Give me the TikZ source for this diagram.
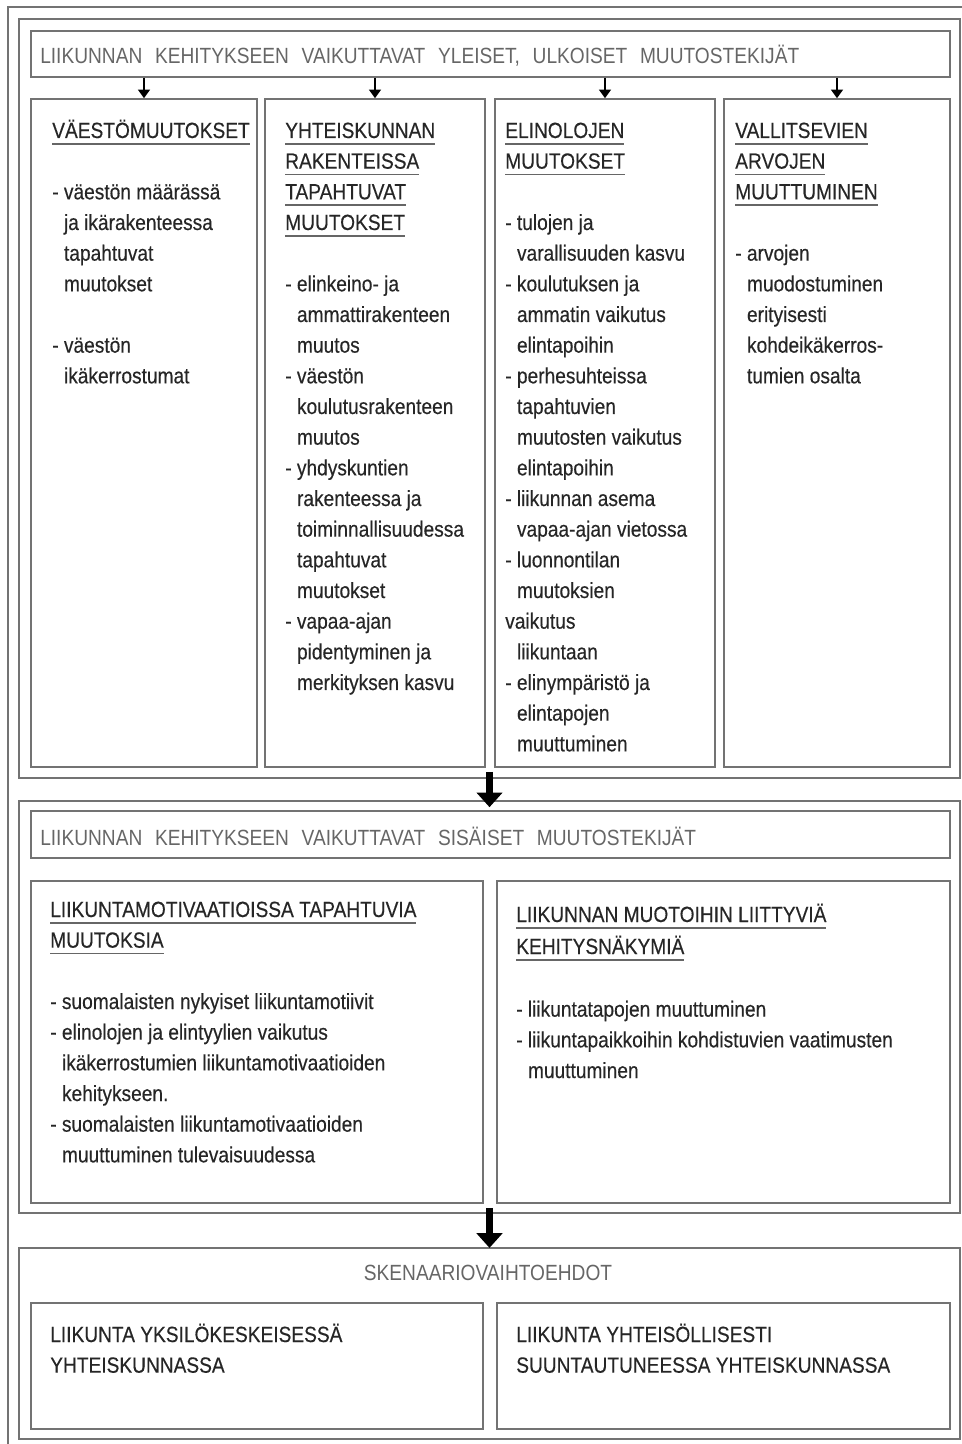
\documentclass[tikz,border=0pt]{standalone}
\usepackage{fontspec}
\setmainfont{Liberation Sans}[FakeStretch=0.87]
\newfontfamily\bodyfont{Liberation Sans}[FakeStretch=0.87,FakeBold=0.35]
\usetikzlibrary{arrows.meta,fit}
\newcommand\hd[1]{\leavevmode\setbox0\hbox{#1}\rlap{\color{black!60}\rule[-5pt]{\wd0}{1.3pt}}\box0}
\newcommand\ind{\hspace*{8.8pt}}
\newcommand\gp{\hspace*{9.5pt}}
\newcommand\blk[2]{\parbox[t]{#1}{\raggedright\bodyfont\fontsize{16.5}{23}\selectfont\leavevmode #2}}
\tikzset{
  box/.style={draw=black!55, line width=1.2pt, inner sep=0pt},
  frame/.style={draw=black!55, line width=1.2pt, inner sep=0pt},
  txt/.style={inner sep=0pt, anchor=base west, text=black!85},
  ttl/.style={inner sep=0pt, text=black!60, font=\fontsize{16.5}{23}\selectfont},
  smarr/.style={line width=1.3pt, -{Triangle[length=6.5pt,width=9pt]}},
  bigarr/.style={line width=5pt, -{Triangle[length=11pt,width=19pt]}}
}
\begin{document}
\begin{tikzpicture}[x=0.75pt,y=-0.75pt]
\useasboundingbox (0,0) rectangle (962,1444);
\clip (0,0) rectangle (962,1444);
% outermost frame
\node[frame, fit={(8,7) (975,1455)}] (outer) {};
% group 1
\node[frame, fit={(19,19) (960,778)}] (g1) {};
\node[box, fit={(31,31) (950,77)}] (t1) {};
\node[ttl, anchor=base west] (t1txt) at (40,64) {LIIKUNNAN\gp KEHITYKSEEN\gp VAIKUTTAVAT\gp YLEISET,\gp ULKOISET\gp MUUTOSTEKIJÄT};
\node[box, fit={(31,99) (257,767)}] (c1) {};
\node[box, fit={(265,99) (485,767)}] (c2) {};
\node[box, fit={(495,99) (715,767)}] (c3) {};
\node[box, fit={(724,99) (950,767)}] (c4) {};
\foreach \c in {c1,c2,c3,c4}{\draw[smarr] (\c.north |- t1.south) -- (\c.north);}
\node[txt] (c1txt) at (52,138) {\blk{200pt}{\hd{VÄESTÖMUUTOKSET}\\[23pt]
- väestön määrässä\\
\ind ja ikärakenteessa\\
\ind tapahtuvat\\
\ind muutokset\\[23pt]
- väestön\\
\ind ikäkerrostumat}};
\node[txt] (c2txt) at (285,138) {\blk{200pt}{\hd{YHTEISKUNNAN}\\ \hd{RAKENTEISSA}\\ \hd{TAPAHTUVAT}\\ \hd{MUUTOKSET}\\[23pt]
- elinkeino- ja\\ \ind ammattirakenteen\\ \ind muutos\\
- väestön\\ \ind koulutusrakenteen\\ \ind muutos\\
- yhdyskuntien\\ \ind rakenteessa ja\\ \ind toiminnallisuudessa\\ \ind tapahtuvat\\ \ind muutokset\\
- vapaa-ajan\\ \ind pidentyminen ja\\ \ind merkityksen kasvu}};
\node[txt] (c3txt) at (505,138) {\blk{200pt}{\hd{ELINOLOJEN}\\ \hd{MUUTOKSET}\\[23pt]
- tulojen ja\\ \ind varallisuuden kasvu\\
- koulutuksen ja\\ \ind ammatin vaikutus\\ \ind elintapoihin\\
- perhesuhteissa\\ \ind tapahtuvien\\ \ind muutosten vaikutus\\ \ind elintapoihin\\
- liikunnan asema\\ \ind vapaa-ajan vietossa\\
- luonnontilan\\ \ind muutoksien\\ vaikutus\\ \ind liikuntaan\\
- elinympäristö ja\\ \ind elintapojen\\ \ind muuttuminen}};
\node[txt] (c4txt) at (735,138) {\blk{200pt}{\hd{VALLITSEVIEN}\\ \hd{ARVOJEN}\\ \hd{MUUTTUMINEN}\\[23pt]
- arvojen\\ \ind muodostuminen\\ \ind erityisesti\\ \ind kohdeikäkerros-\\ \ind tumien osalta}};
% group 2
\node[frame, fit={(19,801) (960,1213)}] (g2) {};
\node[box, fit={(31,811) (950,858)}] (t2) {};
\node[ttl, anchor=base west] (t2txt) at (40,845) {LIIKUNNAN\gp KEHITYKSEEN\gp VAIKUTTAVAT\gp SISÄISET\gp MUUTOSTEKIJÄT};
\node[box, fit={(31,881) (483,1203)}] (m1) {};
\node[box, fit={(497,881) (950,1203)}] (m2) {};
\node[txt] (m1txt) at (50,917) {\blk{400pt}{\hd{LIIKUNTAMOTIVAATIOISSA TAPAHTUVIA}\\ \hd{MUUTOKSIA}\\[23pt]
- suomalaisten nykyiset liikuntamotiivit\\
- elinolojen ja elintyylien vaikutus\\ \ind ikäkerrostumien liikuntamotivaatioiden\\ \ind kehitykseen.\\
- suomalaisten liikuntamotivaatioiden\\ \ind muuttuminen tulevaisuudessa}};
\node[txt] (m2txt) at (516,922) {\blk{400pt}{\hd{LIIKUNNAN MUOTOIHIN LIITTYVIÄ}\\[1pt] \hd{KEHITYSNÄKYMIÄ}\\[24pt]
- liikuntatapojen muuttuminen\\
- liikuntapaikkoihin kohdistuvien vaatimusten\\ \ind muuttuminen}};
\draw[bigarr, shorten <=-5.25pt, shorten >=-5.25pt] (g1.south) -- (g2.north);
% group 3
\node[frame, fit={(19,1248) (960,1439)}] (g3) {};
\node[ttl, anchor=base] (t3txt) at (488,1280) {SKENAARIOVAIHTOEHDOT};
\node[box, fit={(31,1303) (483,1429)}] (s1) {};
\node[box, fit={(497,1303) (950,1429)}] (s2) {};
\node[txt] (s1txt) at (50,1342) {\blk{400pt}{LIIKUNTA YKSILÖKESKEISESSÄ\\ YHTEISKUNNASSA}};
\node[txt] (s2txt) at (516,1342) {\blk{400pt}{LIIKUNTA YHTEISÖLLISESTI\\ SUUNTAUTUNEESSA YHTEISKUNNASSA}};
\draw[bigarr, shorten <=-4.5pt, shorten >=-0.5pt] (g2.south) -- (g3.north);
\end{tikzpicture}
\end{document}
